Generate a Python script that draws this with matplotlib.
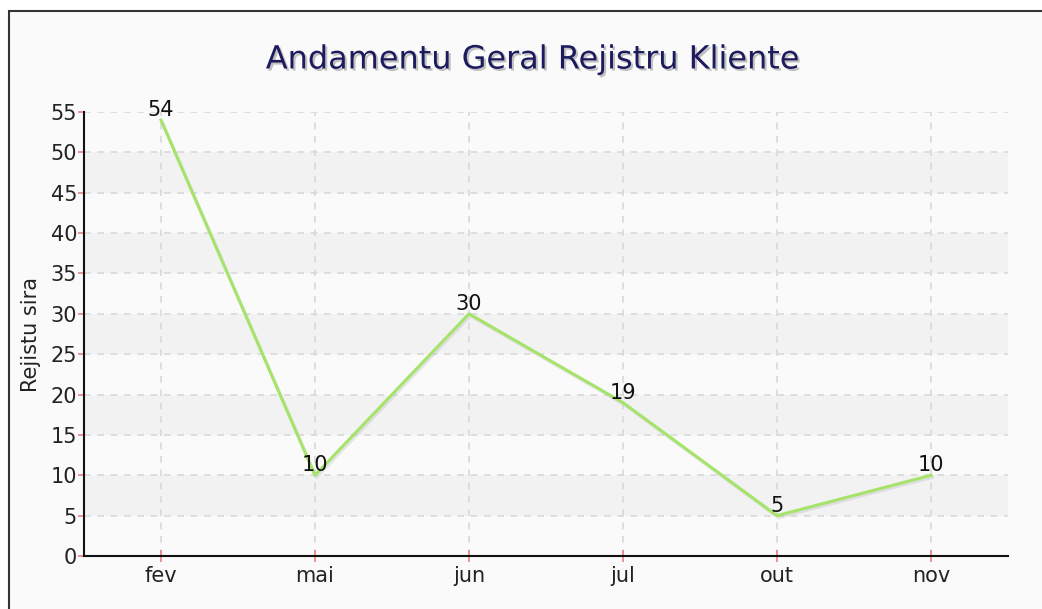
import matplotlib
matplotlib.use("Agg")
import matplotlib.pyplot as plt
import matplotlib.patheffects as pe
from matplotlib.patches import Rectangle

months = ["fev", "mai", "jun", "jul", "out", "nov"]
registos = [54, 10, 30, 19, 5, 10]
y_ticks = list(range(0, 60, 5))

title = "Andamentu Geral Rejistru Kliente"
y_label = "Rejistu sira"

fnt = dict(family="DejaVu Sans")

fig = plt.figure(figsize=(10.42, 6.09), dpi=100)
fig.patch.set_facecolor("white")
# panel with dark border on top/left
bg = Rectangle((9 / 1042, -0.1), 1.2, 1 - 11 / 609 + 0.1,
               transform=fig.transFigure, facecolor="#fafafa",
               edgecolor="#333333", lw=1.5, zorder=-10)
fig.patches.append(bg)

ax = fig.add_axes([84 / 1042, 1 - 556 / 609, (1008 - 84) / 1042, (556 - 112) / 609])
ax.set_facecolor("none")
ax.set_zorder(1)

x = list(range(len(months)))
ax.set_xlim(-0.5, len(months) - 0.5)
ax.set_ylim(0, 55)

# alternating bands
for lo in range(5, 55, 10):
    ax.axhspan(lo, lo + 5, color="#f2f2f2", zorder=0, lw=0)

ax.grid(True, color="#d9d9d9", linestyle=(0, (4, 4)), lw=1.2, zorder=1)
ax.set_axisbelow(True)

line, = ax.plot(x, registos, color="#a6e36b", lw=2.2, zorder=3,
                path_effects=[pe.SimpleLineShadow(offset=(1, -1.5), shadow_color="#bbbbbb", alpha=0.35),
                              pe.Normal()])

for xi, v in zip(x, registos):
    ax.text(xi, v, str(v), ha="center", va="bottom", fontsize=15, color="#111111", zorder=4, **fnt)

ax.set_xticks(x)
ax.set_xticklabels(months, fontsize=15, color="#222222", **fnt)
ax.set_yticks(y_ticks)
ax.set_yticklabels([str(t) for t in y_ticks], fontsize=15, color="#222222", **fnt)
ax.tick_params(axis="y", direction="out", length=4, width=1.2, color="#f08080", pad=1)
ax.tick_params(axis="x", direction="inout", length=8, width=1.2, color="#f08080", pad=3)

for s in ["top", "right"]:
    ax.spines[s].set_visible(False)
for s in ["left", "bottom"]:
    ax.spines[s].set_color("#111111")
    ax.spines[s].set_linewidth(1.5)

ax.set_ylabel(y_label, fontsize=15, color="#222222", family="DejaVu Sans", labelpad=7)

fig.text(533 / 1042, 1 - 60 / 609, title, ha="center", va="center", fontsize=23,
         color="#1b1b5e", path_effects=[pe.withSimplePatchShadow(offset=(1.5, -1.5), shadow_rgbFace="#888888", alpha=0.5)],
         **fnt)

fig.savefig("out.png", dpi=100)
